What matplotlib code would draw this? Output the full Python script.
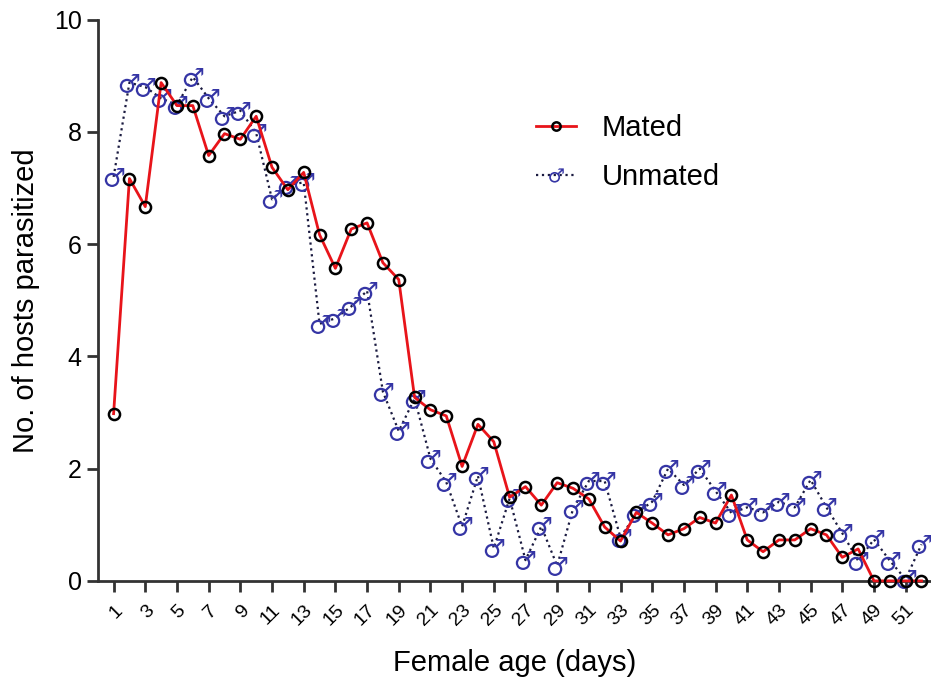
import numpy as np
import matplotlib
matplotlib.use("Agg")
import matplotlib.pyplot as plt

plt.rcParams["font.family"] = ["Liberation Sans", "DejaVu Sans"]

days = np.arange(1, 53)

mated = [2.98, 7.17, 6.67, 8.88, 8.47, 8.47, 7.58, 7.97, 7.87, 8.28,
         7.37, 6.97, 7.28, 6.17, 5.57, 6.27, 6.38, 5.67, 5.37, 3.27,
         3.05, 2.94, 2.04, 2.79, 2.48, 1.49, 1.68, 1.35, 1.75, 1.65,
         1.46, 0.96, 0.71, 1.22, 1.03, 0.82, 0.93, 1.13, 1.03, 1.53,
         0.73, 0.52, 0.73, 0.73, 0.93, 0.82, 0.42, 0.57, 0.0, 0.0,
         0.0, 0.0]

unmated = [7.2, 8.88, 8.8, 8.6, 8.48, 8.98, 8.6, 8.28, 8.38, 7.98,
           6.8, 7.06, 7.1, 4.58, 4.68, 4.89, 5.17, 3.37, 2.67, 3.25,
           2.18, 1.76, 0.97, 1.87, 0.58, 1.47, 0.37, 0.97, 0.27, 1.28,
           1.78, 1.78, 0.77, 1.21, 1.41, 2.0, 1.71, 2.0, 1.6, 1.21,
           1.31, 1.22, 1.41, 1.31, 1.8, 1.31, 0.85, 0.36, 0.74, 0.36,
           0.03, 0.65]

xticks = np.arange(1, 52, 2)
yticks = np.arange(0, 11, 2)

fig = plt.figure(figsize=(9.31, 6.81), dpi=100)
ax = fig.add_axes([0.105, 0.147, 0.895, 0.824])

ax.plot(days, unmated, linestyle=":", color="#1a1a40", linewidth=1.6,
        marker="$\u2642$", markersize=14, markeredgewidth=0,
        markerfacecolor="#3535a5", markeredgecolor="#3535a5",
        label="Unmated", zorder=2, clip_on=False)
ax.plot(days, mated, linestyle="-", color="#e8141a", linewidth=2,
        marker="o", markersize=8, markerfacecolor="none",
        markeredgecolor="black", markeredgewidth=1.8,
        label="Mated", zorder=3, clip_on=False)

ax.set_xlim(0, 52.6)
ax.set_ylim(0, 10)
ax.set_xticks(xticks)
ax.set_xticklabels([str(d) for d in xticks], rotation=45, ha="right",
                   rotation_mode="anchor", fontsize=14)
ax.set_yticks(yticks)
ax.set_yticklabels([str(v) for v in yticks], fontsize=18)

for side in ("top", "right"):
    ax.spines[side].set_visible(False)
for side in ("left", "bottom"):
    ax.spines[side].set_linewidth(2)
    ax.spines[side].set_color("#333333")
ax.tick_params(axis="both", direction="out", length=8, width=2,
               color="#333333")
ax.tick_params(axis="x", pad=7)

ax.set_xlabel("Female age (days)", fontsize=21, labelpad=14)
ax.set_ylabel("No. of hosts parasitized", fontsize=21, labelpad=10)

handles, labels = ax.get_legend_handles_labels()
ax.legend(handles[::-1], labels[::-1], loc="upper left",
          bbox_to_anchor=(0.494, 0.878), frameon=False, fontsize=21,
          handlelength=1.4, handletextpad=0.86, labelspacing=0.7,
          markerscale=0.75)

fig.savefig("out.png", dpi=100)
